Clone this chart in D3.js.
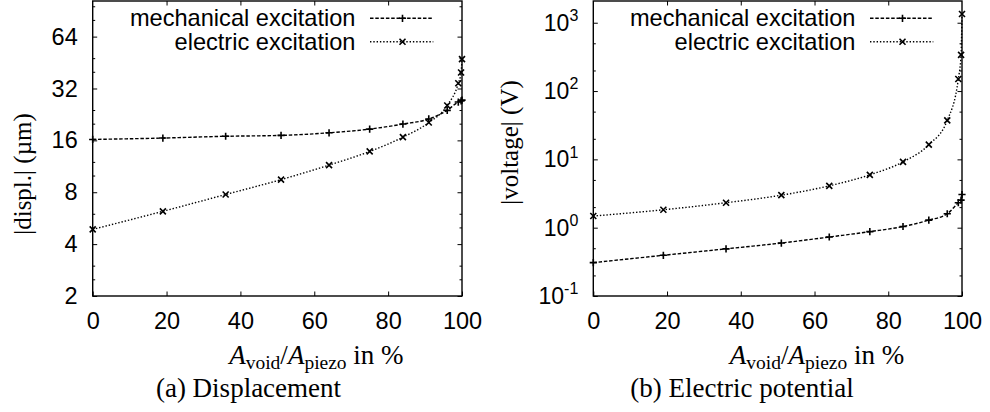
<!DOCTYPE html>
<html>
<head>
<meta charset="utf-8">
<script src="https://cdn.jsdelivr.net/npm/d3@7"></script>
<style>
  body { margin: 0; background: #fff; }
  svg { display: block; }
</style>
</head>
<body>
<div id="chart"></div>
<script>
// void area ratio in %
var ratio = [0, 19, 36, 51, 64, 75, 84, 91, 96, 99, 99.75, 100];

// (a) displacement in um
var displ_mech = [16.2, 16.5, 16.9, 17.1, 17.7, 18.6, 19.9, 21.3, 23.9, 26.7, 27.1, 27.4];
var displ_elec = [4.87, 6.2, 7.76, 9.47, 11.5, 13.8, 16.7, 20.3, 25.5, 34.3, 39.6, 47.4];

// (b) voltage in V
var volt_mech = [0.308, 0.394, 0.49, 0.596, 0.73, 0.875, 1.04, 1.29, 1.6, 2.32, 2.53, 3.06];
var volt_elec = [1.48, 1.83, 2.32, 2.99, 4.1, 5.94, 9.2, 16.4, 37.2, 150, 339, 1344];

var x_ticks = [0, 20, 40, 60, 80, 100];
var displ_ticks = [2, 4, 8, 16, 32, 64];
var displ_minor = [2.5, 3, 5, 6, 10, 12, 20, 24, 40, 48, 80, 96];
var volt_ticks = [0.1, 1, 10, 100, 1000];
var volt_exp = ["-1", "0", "1", "2", "3"];
var volt_minor = [0.2, 0.5, 2, 5, 20, 50, 200, 500];

var series_names = ["mechanical excitation", "electric excitation"];

var width = 990, height = 412;
var sans = "'Liberation Sans', Arial, Helvetica, sans-serif";
var serif = "'Liberation Serif', 'Times New Roman', serif";

var svg = d3.select("#chart").append("svg")
    .attr("width", width)
    .attr("height", height);

svg.append("rect").attr("width", width).attr("height", height).attr("fill", "#fff");

var panels = [
  { left: 92.7, right: 462, top: 1, bottom: 296,
    y: d3.scaleLog().base(2).domain([2, 103]),
    ticks: displ_ticks, minor: displ_minor,
    mech: displ_mech, elec: displ_elec,
    ylabel: "|displ.| (µm)", ylabelX: 31, ylabelY: 174,
    caption: "(a) Displacement", captionX: 248.5 },
  { left: 593.3, right: 962, top: 1, bottom: 296,
    y: d3.scaleLog().domain([0.1, 2080]),
    ticks: volt_ticks, minor: volt_minor, exp: volt_exp,
    mech: volt_mech, elec: volt_elec,
    ylabel: "|voltage| (V)", ylabelX: 518, ylabelY: 142.5,
    caption: "(b) Electric potential", captionX: 742 }
];

function plusPath(s) {
  return "M" + (-s) + ",0H" + s + "M0," + (-s) + "V" + s;
}
function crossPath(s) {
  return "M" + (-s) + "," + (-s) + "L" + s + "," + s + "M" + (-s) + "," + s + "L" + s + "," + (-s);
}

var styles = [
  { dash: "3.5,1.8", marker: plusPath(3.6) },
  { dash: "1.4,1.9", marker: crossPath(3) }
];

panels.forEach(function(p) {
  var x = d3.scaleLinear().domain([0, 100]).range([p.left, p.right]);
  var y = p.y.range([p.bottom, p.top]);
  var g = svg.append("g");

  // ticks on all four sides, pointing inward
  function styleAxis(sel) {
    sel.select(".domain").remove();
    sel.selectAll("line").attr("stroke", "#000").attr("stroke-width", 1);
    sel.selectAll("text").attr("font-family", sans).attr("font-size", 23.5).attr("fill", "#000");
  }

  g.append("g").attr("transform", "translate(0," + p.bottom + ")")
    .call(d3.axisBottom(x).tickValues(x_ticks).tickSize(-4.5).tickPadding(16.5).tickFormat(d3.format("d")))
    .call(styleAxis);
  g.append("g").attr("transform", "translate(0," + p.top + ")")
    .call(d3.axisTop(x).tickValues(x_ticks.slice(1, -1)).tickSize(-4.5).tickFormat(""))
    .call(styleAxis);

  var yl = g.append("g").attr("transform", "translate(" + p.left + ",0)")
    .call(d3.axisLeft(y).tickValues(p.ticks).tickSize(-4.5).tickPadding(15).tickFormat(d3.format("d")))
    .call(styleAxis);
  if (p.exp) {
    yl.selectAll("text").attr("font-size", 23).each(function(d, i) {
      var t = d3.select(this);
      t.text("10");
      t.append("tspan").attr("dy", "-0.6em").attr("font-size", 16).text(p.exp[i]);
    });
  }
  g.append("g").attr("transform", "translate(" + p.right + ",0)")
    .call(d3.axisRight(y).tickValues(p.ticks).tickSize(-4.5).tickFormat(""))
    .call(styleAxis);
  g.append("g").attr("transform", "translate(" + p.left + ",0)")
    .call(d3.axisLeft(y).tickValues(p.minor).tickSize(-2.5).tickFormat(""))
    .call(styleAxis);
  g.append("g").attr("transform", "translate(" + p.right + ",0)")
    .call(d3.axisRight(y).tickValues(p.minor).tickSize(-2.5).tickFormat(""))
    .call(styleAxis);

  // frame
  g.append("rect")
    .attr("x", p.left).attr("y", p.top)
    .attr("width", p.right - p.left).attr("height", p.bottom - p.top)
    .attr("fill", "none").attr("stroke", "#000").attr("stroke-width", 1.4);

  // curves
  [p.mech, p.elec].forEach(function(vals, k) {
    var pts = ratio.map(function(r, i) { return [r, vals[i]]; });
    var line = d3.line()
      .x(function(d) { return x(d[0]); })
      .y(function(d) { return y(d[1]); })
      .curve(d3.curveMonotoneX);
    g.append("path")
      .datum(pts)
      .attr("d", line)
      .attr("fill", "none")
      .attr("stroke", "#000")
      .attr("stroke-width", 1.4)
      .attr("stroke-dasharray", styles[k].dash);
    g.selectAll(".m" + k)
      .data(pts)
      .enter().append("path")
      .attr("transform", function(d) { return "translate(" + x(d[0]) + "," + y(d[1]) + ")"; })
      .attr("d", styles[k].marker)
      .attr("stroke", "#000")
      .attr("stroke-width", 1.6)
      .attr("fill", "none");
  });

  // legend
  series_names.forEach(function(name, k) {
    var ly = [18.3, 41.7][k];
    g.append("text")
      .attr("x", p.right - 106.5).attr("y", ly + 8)
      .attr("text-anchor", "end")
      .attr("font-family", sans).attr("font-size", 23.6)
      .text(name);
    g.append("line")
      .attr("x1", p.right - 92).attr("x2", p.right - 28.7)
      .attr("y1", ly).attr("y2", ly)
      .attr("stroke", "#000").attr("stroke-width", 1.4)
      .attr("stroke-dasharray", styles[k].dash);
    g.append("path")
      .attr("transform", "translate(" + (p.right - 59.5) + "," + ly + ")")
      .attr("d", styles[k].marker)
      .attr("stroke", "#000").attr("stroke-width", 1.6).attr("fill", "none");
  });

  // y label
  g.append("text")
    .attr("transform", "translate(" + p.ylabelX + "," + p.ylabelY + ") rotate(-90)")
    .attr("text-anchor", "middle")
    .attr("font-family", serif).attr("font-size", 25)
    .text(p.ylabel);

  // x label: A_void / A_piezo in %
  var xl = g.append("text")
    .attr("x", p.left + 136.5).attr("y", 364)
    .attr("font-family", serif).attr("font-size", 27);
  xl.append("tspan").attr("font-style", "italic").text("A");
  xl.append("tspan").attr("font-size", 19.5).attr("dy", 4.5).text("void");
  xl.append("tspan").attr("dy", -4.5).text("/");
  xl.append("tspan").attr("font-style", "italic").text("A");
  xl.append("tspan").attr("font-size", 19.5).attr("dy", 4.5).text("piezo");
  xl.append("tspan").attr("dy", -4.5).text(" in %");

  // caption
  g.append("text")
    .attr("x", p.captionX).attr("y", 397)
    .attr("text-anchor", "middle")
    .attr("font-family", serif).attr("font-size", 27)
    .text(p.caption);
});
</script>
</body>
</html>
